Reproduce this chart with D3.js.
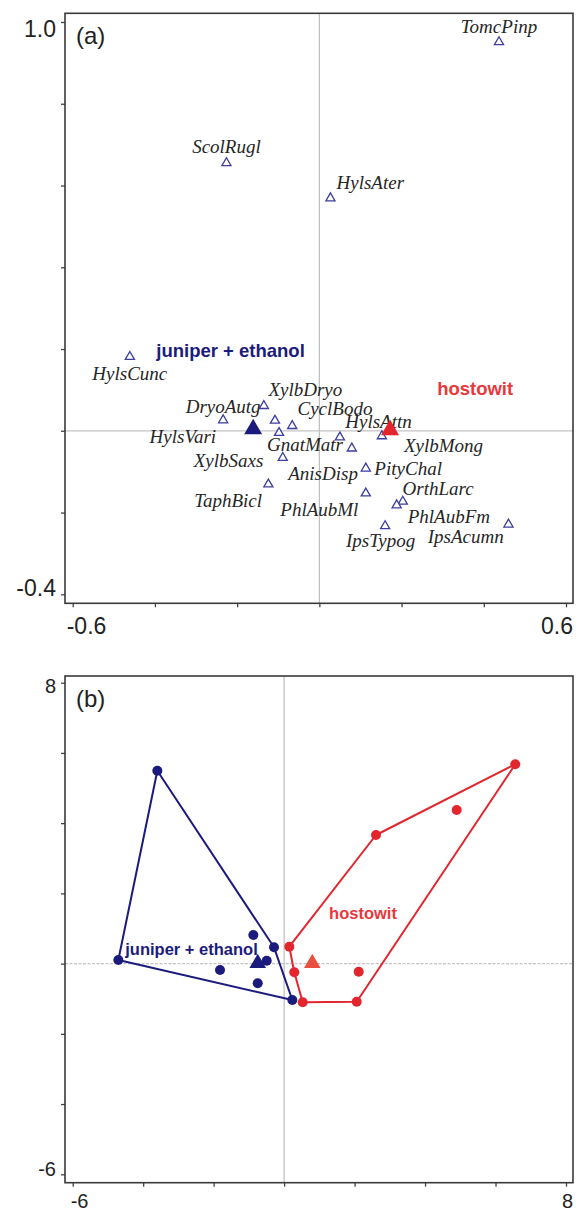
<!DOCTYPE html>
<html>
<head>
<meta charset="utf-8">
<script src="https://cdn.jsdelivr.net/npm/d3@7"></script>
<style>
  body { margin: 0; background: #fff; }
  svg { display: block; }
</style>
</head>
<body>
<svg id="chart" width="581" height="1213"></svg>
<script>
// (a) species scores
const speciesNames = ['TomcPinp','ScolRugl','HylsAter','HylsCunc','XylbDryo','DryoAutg','HylsVari','CyclBodo',
                      'GnatMatr','XylbSaxs','TaphBicl','HylsAttn','XylbMong','AnisDisp','PityChal','PhlAubMl',
                      'OrthLarc','PhlAubFm','IpsTypog','IpsAcumn'];
const speciesX = [0.437,-0.226,0.027,-0.461,-0.135,-0.234,-0.108,-0.066,
                  -0.098,-0.089,-0.124,0.050,0.152,0.079,0.113,0.113,
                  0.203,0.188,0.160,0.460];
const speciesY = [0.951,0.655,0.569,0.181,0.061,0.026,0.025,0.012,
                  -0.005,-0.066,-0.131,-0.016,-0.013,-0.043,-0.092,-0.153,
                  -0.173,-0.182,-0.233,-0.229];
// where each name sits (centre, baseline) in the same units
const labelX = [0.437,-0.226,0.124,-0.461,-0.034,-0.234,-0.332,0.038,
                -0.035,-0.221,-0.222,0.144,0.302,0.009,0.216,0.000,
                0.289,0.315,0.149,0.356];
const labelY = [0.973,0.680,0.592,0.124,0.085,0.044,-0.030,0.039,
                -0.049,-0.088,-0.186,0.007,-0.052,-0.120,-0.108,-0.208,
                -0.157,-0.225,-0.284,-0.274];

// treatment centroids (a)
const treatNames = ['juniper + ethanol','hostowit'];
const treatAX = [-0.161, 0.172];
const treatAY = [0.004, 0.002];
const treatALabelX = [-0.216, 0.379];
const treatALabelY = [0.181, 0.088];

// (b) sample scores
const junSitesX = [-3.598,-4.705,0.233,-0.287,-0.874,-1.819,-0.749,-0.494];
const junSitesY = [5.494,0.103,-1.037,0.464,0.815,-0.182,-0.561,0.083];
const hostSitesX = [6.560,4.898,2.608,0.148,0.289,0.528,2.060,2.117];
const hostSitesY = [5.676,4.375,3.663,0.481,-0.248,-1.102,-1.085,-0.231];
const treatBX = [-0.749, 0.800];
const treatBY = [0.009, 0.009];
const treatBLabelX = [-2.628, 2.239];
const treatBLabelY = [0.245, 1.270];

// axes
const ticksAX = [-0.6,-0.4,-0.2,0,0.2,0.4,0.6];
const ticksAY = [-0.4,-0.2,0,0.2,0.4,0.6,0.8,1.0];
const ticksB  = [-6,-4,-2,0,2,4,6,8];
const tickLabelsAX = ['-0.6','0.6'];
const tickLabelsAY = ['-0.4','1.0'];
const tickLabelsB  = ['-6','8'];

const NAVY = '#1b1b7d', TRI = '#3d3d9e', RED = '#e3262d';
const svg = d3.select('#chart');

function panel(opt){
    const g = svg.append('g');
    const x = opt.x, y = opt.y;
    const [x0, x1] = x.range(), [yb, yt] = y.range();
    const fl = x0 - 7.7, fr = x1 + 7, ft = yt - opt.padTop, fb = yb + opt.padBot;

    // zero lines
    g.append('line').attr('x1', x(0)).attr('x2', x(0)).attr('y1', ft).attr('y2', fb)
        .attr('stroke', '#bdbdbd').attr('stroke-width', 1.2);
    g.append('line').attr('x1', fl).attr('x2', fr).attr('y1', y(0)).attr('y2', y(0))
        .attr('stroke', '#c4c4c4').attr('stroke-width', 1.2)
        .attr('stroke-dasharray', opt.dashZero ? '3 1.5' : null);

    // ticks
    const ax = g.append('g').attr('transform', `translate(0,${fb})`)
        .call(d3.axisBottom(x).tickValues(opt.xTicks).tickSize(4).tickFormat(''));
    const ay = g.append('g').attr('transform', `translate(${fl},0)`)
        .call(d3.axisLeft(y).tickValues(opt.yTicks).tickSize(4).tickFormat(''));
    [ax, ay].forEach(a => {
        a.select('.domain').remove();
        a.selectAll('line').attr('stroke', '#444').attr('stroke-width', 1.3);
    });

    g.append('rect').attr('x', fl).attr('y', ft).attr('width', fr - fl).attr('height', fb - ft)
        .attr('fill', 'none').attr('stroke', '#3a3a3a').attr('stroke-width', 1.6);

    const tl = g.append('g').style('font-family', 'Liberation Sans, Arial, sans-serif')
        .style('font-size', opt.tickFont + 'px').attr('fill', '#222');
    const xd = x.domain(), yd = y.domain();
    tl.append('text').attr('x', x(xd[0]) - opt.xLabShift).attr('y', fb + opt.xLabDy).text(opt.xLabels[0]);
    tl.append('text').attr('x', x(xd[1]) + 7).attr('y', fb + opt.xLabDy)
        .attr('text-anchor', 'end').text(opt.xLabels[1]);
    tl.append('text').attr('x', fl - 9).attr('y', y(yd[0]) + 2)
        .attr('text-anchor', 'end').text(opt.yLabels[0]);
    tl.append('text').attr('x', fl - 9).attr('y', y(yd[1]) + opt.topLabDy)
        .attr('text-anchor', 'end').text(opt.yLabels[1]);

    g.append('text').attr('x', fl + 11).attr('y', ft + opt.tagDy)
        .style('font-family', 'Liberation Sans, Arial, sans-serif').style('font-size', '24px')
        .attr('fill', '#222').text(opt.tag);
    return g;
}

// ---------- (a) ----------
const xA = d3.scaleLinear().domain([-0.6, 0.6]).range([72.7, 566]);
const yA = d3.scaleLinear().domain([-0.4, 1.0]).range([594.3, 22]);
const gA = panel({x: xA, y: yA, padTop: 8.7, padBot: 9, xTicks: ticksAX, yTicks: ticksAY,
    xLabels: tickLabelsAX, yLabels: tickLabelsAY, tickFont: 23, xLabShift: 6, xLabDy: 31, topLabDy: 15,
    tag: '(a)', tagDy: 31, dashZero: false});

const smallTri = d3.symbol(d3.symbolTriangle, 36)();
const bigTri = d3.symbol(d3.symbolTriangle, 140)();

gA.append('g').selectAll('path').data(speciesNames).join('path')
    .attr('d', smallTri)
    .attr('transform', (d, i) => `translate(${xA(speciesX[i])},${yA(speciesY[i])})`)
    .attr('fill', '#fff').attr('stroke', TRI).attr('stroke-width', 1.3);

gA.append('g').selectAll('text').data(speciesNames).join('text')
    .attr('x', (d, i) => xA(labelX[i])).attr('y', (d, i) => yA(labelY[i]))
    .attr('text-anchor', 'middle')
    .style('font-family', 'Liberation Serif, Times New Roman, serif').style('font-style', 'italic')
    .style('font-size', '19px').attr('fill', '#262626')
    .text(d => d);

gA.append('g').selectAll('path').data(treatNames).join('path')
    .attr('d', bigTri)
    .attr('transform', (d, i) => `translate(${xA(treatAX[i])},${yA(treatAY[i])})`)
    .attr('fill', (d, i) => i ? RED : NAVY);

gA.append('g').selectAll('text').data(treatNames).join('text')
    .attr('x', (d, i) => xA(treatALabelX[i])).attr('y', (d, i) => yA(treatALabelY[i]))
    .attr('text-anchor', 'middle')
    .style('font-family', 'Liberation Sans, Arial, sans-serif').style('font-weight', 'bold')
    .style('font-size', '18.5px').attr('fill', (d, i) => i ? '#e8383d' : NAVY)
    .text(d => d);

// ---------- (b) ----------
const xB = d3.scaleLinear().domain([-6, 8]).range([72.7, 566]);
const yB = d3.scaleLinear().domain([-6, 8]).range([1174.3, 682.7]);
const gB = panel({x: xB, y: yB, padTop: 6.7, padBot: 8.4, xTicks: ticksB, yTicks: ticksB,
    xLabels: tickLabelsB, yLabels: tickLabelsB, tickFont: 20, xLabShift: 2, xLabDy: 25, topLabDy: 10,
    tag: '(b)', tagDy: 31, dashZero: true});

const groups = [
    {pts: junSitesX.map((v, i) => [v, junSitesY[i]]), color: NAVY},
    {pts: hostSitesX.map((v, i) => [v, hostSitesY[i]]), color: RED}
];

groups.forEach(grp => {
    const hull = d3.polygonHull(grp.pts.map(p => [xB(p[0]), yB(p[1])]));
    gB.append('path').attr('d', d3.line()(hull) + 'Z')
        .attr('fill', 'none').attr('stroke', grp.color).attr('stroke-width', 2)
        .attr('stroke-linejoin', 'round');
    gB.append('g').selectAll('circle').data(grp.pts).join('circle')
        .attr('cx', d => xB(d[0])).attr('cy', d => yB(d[1])).attr('r', 5)
        .attr('fill', grp.color);
});

gB.append('g').selectAll('text').data(treatNames).join('text')
    .attr('x', (d, i) => xB(treatBLabelX[i])).attr('y', (d, i) => yB(treatBLabelY[i]))
    .attr('text-anchor', 'middle')
    .style('font-family', 'Liberation Sans, Arial, sans-serif').style('font-weight', 'bold')
    .style('font-size', '16.5px').attr('fill', (d, i) => i ? '#e8383d' : NAVY)
    .text(d => d);

gB.append('g').selectAll('path').data(treatNames).join('path')
    .attr('d', d3.symbol(d3.symbolTriangle, 120)())
    .attr('transform', (d, i) => `translate(${xB(treatBX[i])},${yB(treatBY[i])})`)
    .attr('fill', (d, i) => i ? '#ea5040' : NAVY);
</script>
</body>
</html>
